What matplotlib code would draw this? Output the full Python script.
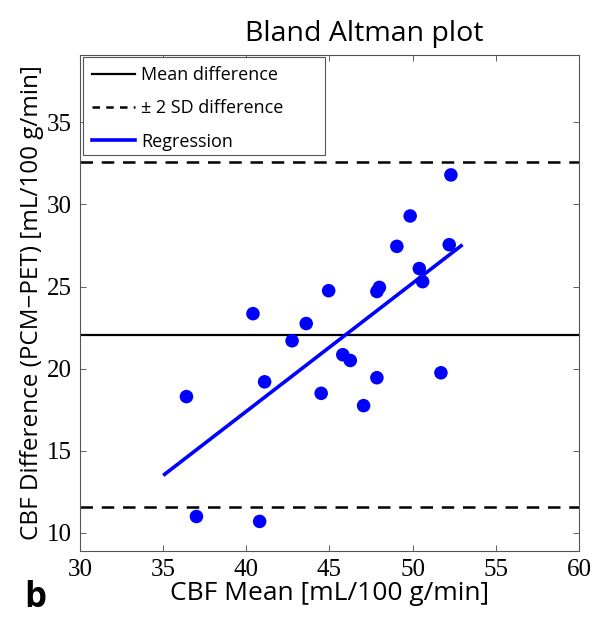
import matplotlib
matplotlib.use("Agg")
import matplotlib.pyplot as plt
from matplotlib.lines import Line2D
from matplotlib.patches import Rectangle
import numpy as np

# ── Data ──────────────────────────────────────────────────────────────────────
cbf_mean = [36.4, 37.0, 40.8, 40.4, 41.1, 42.75, 43.6, 44.5, 44.95, 45.8, 46.25,
            47.05, 47.85, 47.85, 48.0, 49.05, 49.85, 50.4, 50.6, 51.7, 52.2, 52.3]
cbf_diff = [18.3, 11.0, 10.7, 23.35, 19.2, 21.7, 22.75, 18.5, 24.75, 20.85, 20.5,
            17.75, 19.45, 24.7, 24.95, 27.45, 29.3, 26.1, 25.3, 19.75, 27.55, 31.8]

mean_diff = 22.07
sd_lower = 11.57
sd_upper = 32.58

reg_x = [35.0, 53.0]
reg_y = [13.5, 27.55]

x_ticks = [30, 35, 40, 45, 50, 55, 60]
y_ticks = [10, 15, 20, 25, 30, 35]

SANS = "Open Sans"
SERIF = "Liberation Serif"

fig = plt.figure(figsize=(5.94, 6.19), dpi=100)
ax = fig.add_axes([0.1347, 0.1099, 0.84, 0.8012])

ax.axhline(mean_diff, color="black", lw=1.6, zorder=2)
ax.axhline(sd_upper, color="black", lw=1.8, ls=(0, (5, 3.5)), zorder=2)
ax.axhline(sd_lower, color="black", lw=1.8, ls=(0, (5, 3.5)), zorder=2)
ax.plot(reg_x, reg_y, color="#0000ff", lw=2.6, solid_capstyle="butt", zorder=3)
ax.scatter(cbf_mean, cbf_diff, s=95, color="#0000ff", edgecolors="none", zorder=4)

ax.set_xlim(30, 60)
ax.set_ylim(8.9, 39.1)
ax.set_xticks(x_ticks)
ax.set_yticks(y_ticks)
ax.tick_params(direction="in", length=4, width=0.6, top=True, right=True,
               labelsize=18, pad=6, color="#444444")
for lab in ax.get_xticklabels() + ax.get_yticklabels():
    lab.set_fontfamily(SERIF)
for sp in ax.spines.values():
    sp.set_linewidth(0.8)
    sp.set_color("#555555")

ax.set_xlabel("CBF Mean [mL/100 g/min]", fontsize=19, family=SANS, labelpad=0)
ax.set_ylabel("CBF Difference (PCM\u2212PET) [mL/100 g/min]", fontsize=17.5,
              family=SANS, labelpad=2)
ax.set_title("Bland Altman plot", fontsize=20.5, family=SANS, pad=10, x=0.569)

# legend: MATLAB-style box with extra room on the right
handles = [
    Line2D([0], [0], color="black", lw=1.6),
    Line2D([0], [0], color="black", lw=1.8, ls=(0, (3, 2.5))),
    Line2D([0], [0], color="#0000ff", lw=2.6),
]
labels = ["Mean difference", "\u00b1 2 SD difference", "Regression"]
ax.add_patch(Rectangle((0.006, 0.798), 0.485, 0.198, transform=ax.transAxes,
                       facecolor="white", edgecolor="#555555", lw=0.8, zorder=5))
leg = ax.legend(handles, labels, loc="upper left", bbox_to_anchor=(0.006, 0.996),
                prop={"family": SANS, "size": 13}, frameon=False,
                handlelength=2.4, handletextpad=0.3, borderaxespad=0.0,
                labelspacing=0.85, borderpad=0.5)
leg.set_zorder(6)

fig.text(0.04, 0.02, "b", fontsize=25, fontweight="bold", family=SANS)

fig.savefig("out.png", dpi=100)
